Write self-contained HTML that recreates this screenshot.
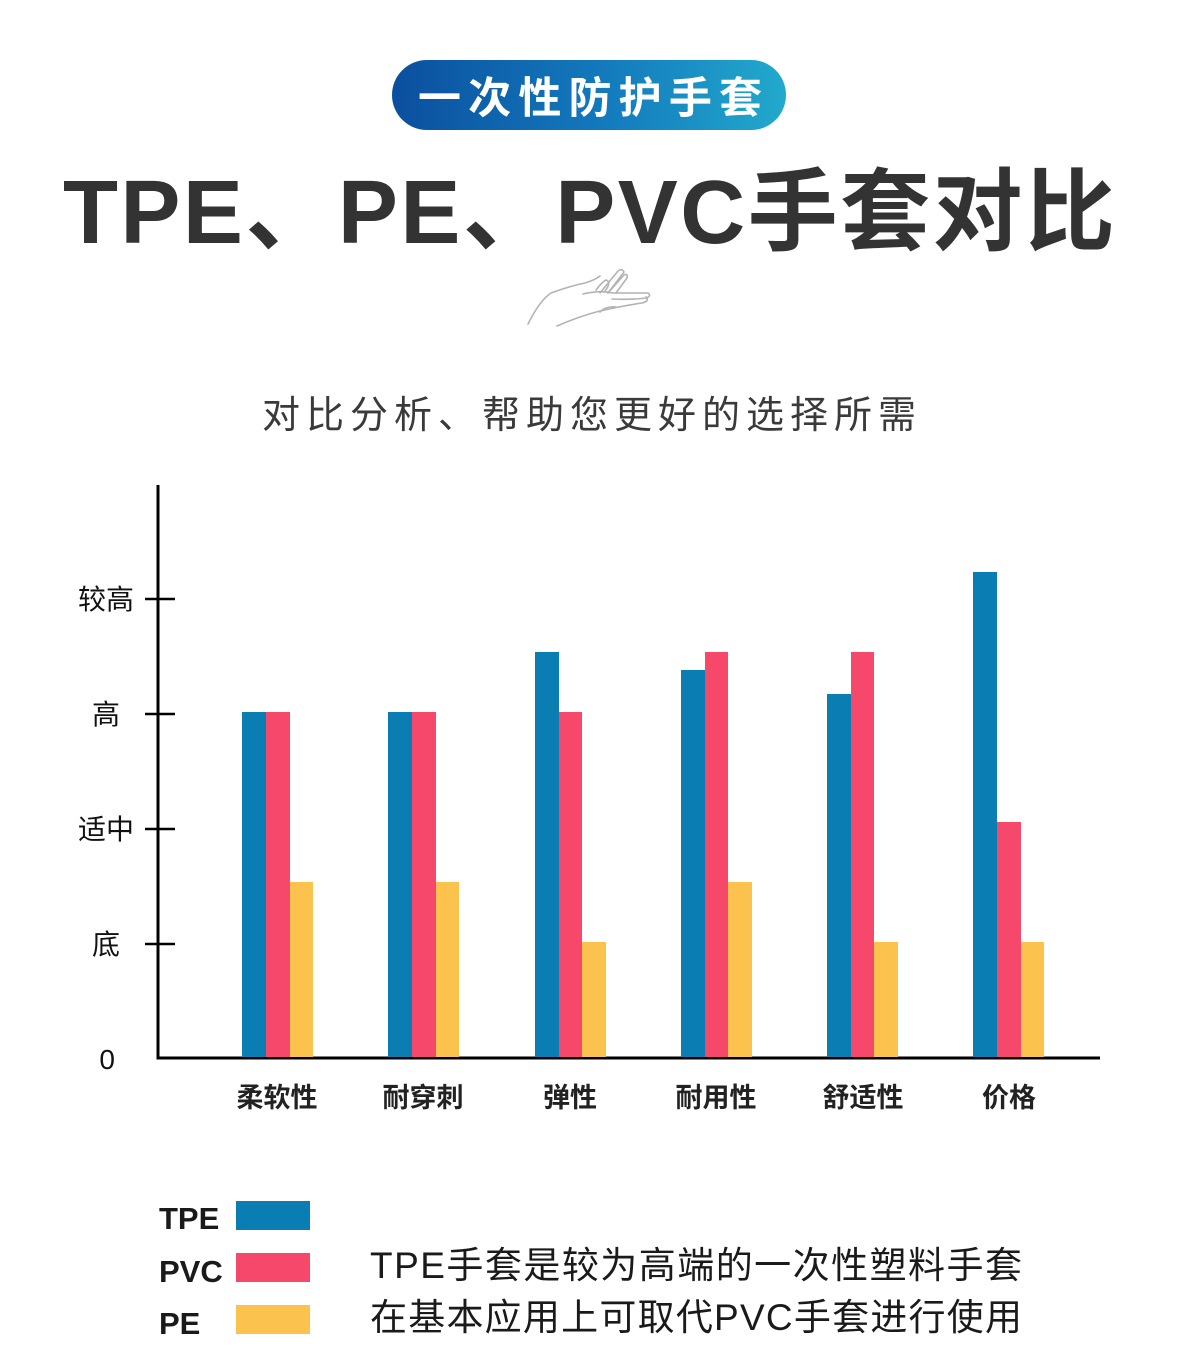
<!DOCTYPE html>
<html>
<head>
<meta charset="utf-8">
<style>
html,body{margin:0;padding:0;background:#fff;}
svg{display:block;}
</style>
</head>
<body>
<svg width="1179" height="1350" viewBox="0 0 1179 1350" xmlns="http://www.w3.org/2000/svg">
  <defs>
    <linearGradient id="bg" x1="0" y1="0" x2="1" y2="0">
      <stop offset="0" stop-color="#0b4f9f"/>
      <stop offset="0.55" stop-color="#137bbd"/>
      <stop offset="1" stop-color="#22a9cc"/>
    </linearGradient>
  </defs>
  <rect x="0" y="0" width="1179" height="1350" fill="#ffffff"/>

  <!-- Badge -->
  <rect x="392" y="60" width="394" height="70" rx="35" ry="35" fill="url(#bg)"/>
  <text x="418" y="113" font-family="'Liberation Sans','Noto Sans CJK SC',sans-serif" font-size="43" font-weight="bold" fill="#ffffff" textLength="344" lengthAdjust="spacing">一次性防护手套</text>

  <!-- Title -->
  <text x="63" y="243" font-family="'Liberation Sans','Noto Sans CJK SC',sans-serif" font-size="90" font-weight="bold" fill="#333333" textLength="1052" lengthAdjust="spacing">TPE、PE、PVC手套对比</text>

  <!-- Hand sketch -->
  <g fill="none" stroke="#b3b3b3" stroke-width="1.6" stroke-linecap="round" stroke-linejoin="round">
    <path d="M528 324 Q540 300 551 293 Q570 286 585 283 Q595 280 600 276"/>
    <path d="M557 326 Q580 316 600 311 Q622 306 642 303 Q650 301 646 297"/>
    <path d="M583 294 Q600 290 613 293 L648 293 Q652 296 646 298 Q630 300 612 299"/>
    <path d="M600 293 L618 271 Q622 268 624 272 L608 293"/>
    <path d="M608 293 L624 275 Q628 273 627 278 L616 293"/>
    <path d="M596 290 Q602 282 606 280 Q612 282 605 291"/>
    <path d="M600 312 Q606 306 616 307"/>
  </g>

  <!-- Subtitle -->
  <text x="262" y="428" font-family="'Liberation Sans','Noto Sans CJK SC',sans-serif" font-size="38" fill="#3a3a3a" textLength="654" lengthAdjust="spacing">对比分析、帮助您更好的选择所需</text>

  <!-- Axes -->
  <line x1="158" y1="485" x2="158" y2="1059" stroke="#000" stroke-width="3"/>
  <line x1="156.5" y1="1058" x2="1100" y2="1058" stroke="#000" stroke-width="3"/>
  <g stroke="#000" stroke-width="2.5">
    <line x1="145" y1="599" x2="175" y2="599"/>
    <line x1="145" y1="714" x2="175" y2="714"/>
    <line x1="145" y1="829" x2="175" y2="829"/>
    <line x1="145" y1="944" x2="175" y2="944"/>
  </g>
  <g font-family="'Liberation Sans','Noto Sans CJK SC',sans-serif" font-size="28" fill="#111" text-anchor="end">
    <text x="134" y="609">较高</text>
    <text x="120" y="724">高</text>
    <text x="134" y="839">适中</text>
    <text x="120" y="954">底</text>
    <text x="115" y="1069">0</text>
  </g>

  <!-- Bars -->
  <g>
    <rect x="242" y="712" width="24" height="345" fill="#0a7db3"/>
    <rect x="266" y="712" width="24" height="345" fill="#f5486b"/>
    <rect x="290" y="882" width="23" height="175" fill="#fbc34d"/>
    <rect x="388" y="712" width="24" height="345" fill="#0a7db3"/>
    <rect x="412" y="712" width="24" height="345" fill="#f5486b"/>
    <rect x="436" y="882" width="23" height="175" fill="#fbc34d"/>
    <rect x="535" y="652" width="24" height="405" fill="#0a7db3"/>
    <rect x="559" y="712" width="23" height="345" fill="#f5486b"/>
    <rect x="582" y="942" width="24" height="115" fill="#fbc34d"/>
    <rect x="681" y="670" width="24" height="387" fill="#0a7db3"/>
    <rect x="705" y="652" width="23" height="405" fill="#f5486b"/>
    <rect x="728" y="882" width="24" height="175" fill="#fbc34d"/>
    <rect x="827" y="694" width="24" height="363" fill="#0a7db3"/>
    <rect x="851" y="652" width="23" height="405" fill="#f5486b"/>
    <rect x="874" y="942" width="24" height="115" fill="#fbc34d"/>
    <rect x="973" y="572" width="24" height="485" fill="#0a7db3"/>
    <rect x="997" y="822" width="24" height="235" fill="#f5486b"/>
    <rect x="1021" y="942" width="23" height="115" fill="#fbc34d"/>
  </g>

  <!-- X labels -->
  <g font-family="'Liberation Sans','Noto Sans CJK SC',sans-serif" font-size="27" font-weight="bold" fill="#222" text-anchor="middle">
    <text x="277" y="1107">柔软性</text>
    <text x="423" y="1107">耐穿刺</text>
    <text x="570" y="1107">弹性</text>
    <text x="716" y="1107">耐用性</text>
    <text x="863" y="1107">舒适性</text>
    <text x="1009" y="1107">价格</text>
  </g>

  <!-- Legend -->
  <g font-family="'Liberation Sans','Noto Sans CJK SC',sans-serif" font-size="31" font-weight="bold" fill="#1a1a1a">
    <text x="159" y="1229">TPE</text>
    <text x="159" y="1282">PVC</text>
    <text x="159" y="1334">PE</text>
  </g>
  <rect x="236" y="1201" width="74" height="29" fill="#0a7db3"/>
  <rect x="236" y="1253" width="74" height="29" fill="#f5486b"/>
  <rect x="236" y="1305" width="74" height="29" fill="#fbc34d"/>

  <!-- Footnote -->
  <g font-family="'Liberation Sans','Noto Sans CJK SC',sans-serif" font-size="37" fill="#1a1a1a">
    <text x="370" y="1278" textLength="652" lengthAdjust="spacing">TPE手套是较为高端的一次性塑料手套</text>
    <text x="370" y="1330" textLength="652" lengthAdjust="spacing">在基本应用上可取代PVC手套进行使用</text>
  </g>
</svg>
</body>
</html>
